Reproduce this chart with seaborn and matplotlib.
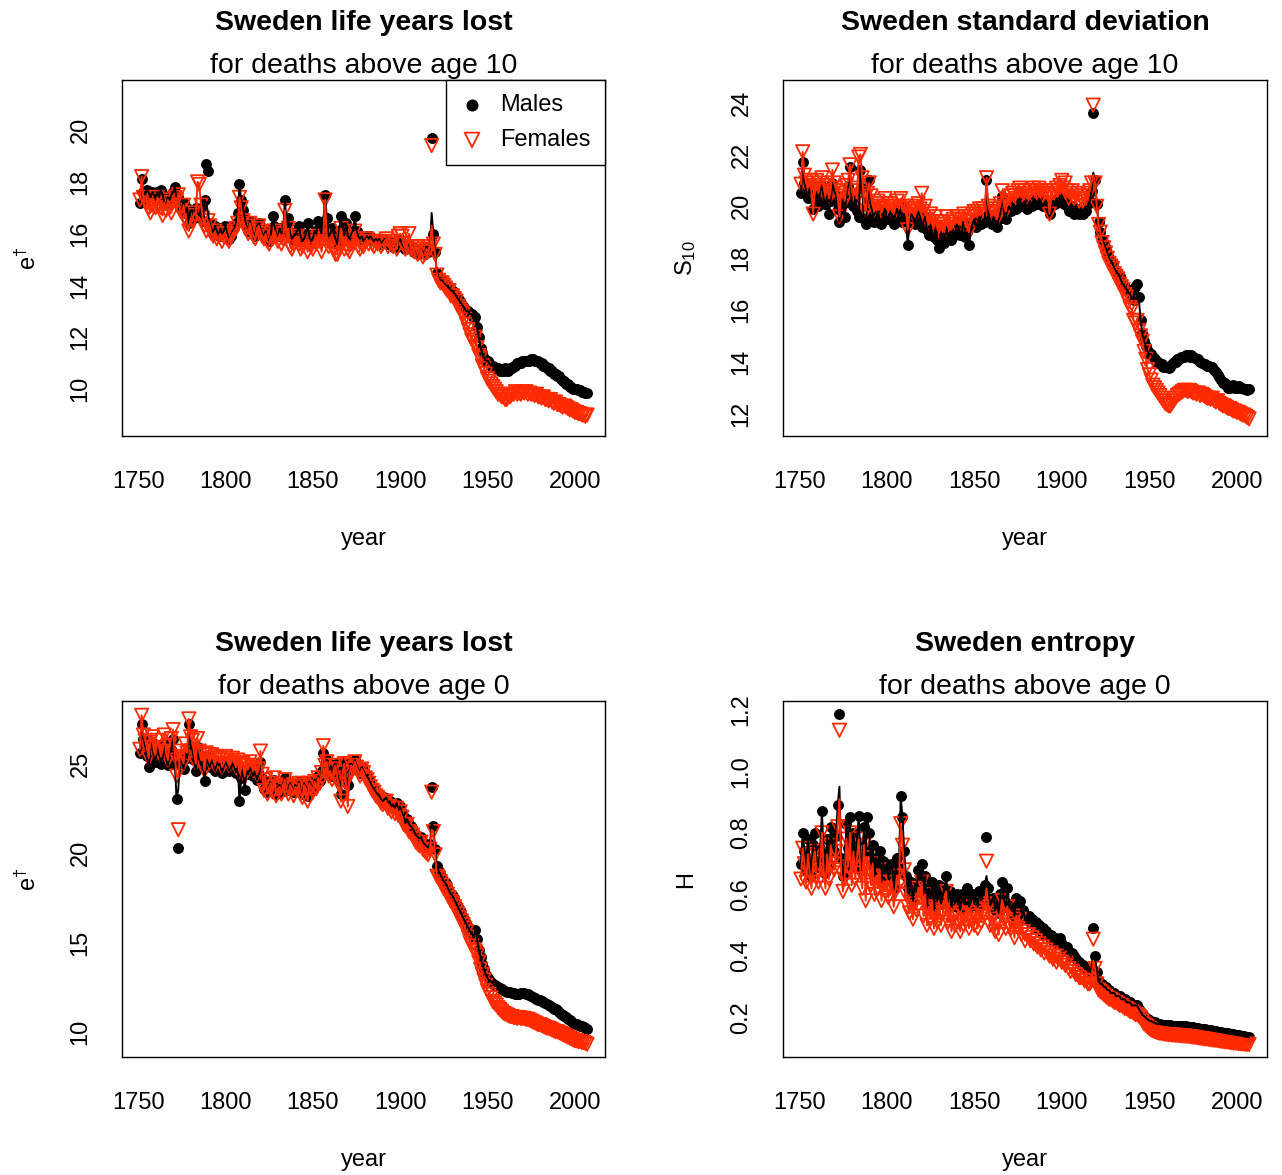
import numpy as np
import pandas as pd
import matplotlib
matplotlib.use("Agg")
import matplotlib.pyplot as plt
import seaborn as sns

# years 1751..2007, one value per year
years = list(range(1751, 2008))

# ---- life years lost above age 10 (e-dagger) ----
e10_m = [
    17.2, 18.1, 17.6, 17.5, 17.7, 17.6, 17.4, 17.6, 17.5, 17.3,
    17.6, 17.4, 17.7, 17.5, 17.2, 17.1, 17.4, 17.3, 17.5, 17.6,
    17.8, 17.3, 17.4, 17.0, 16.9, 17.2, 16.8, 17.0, 16.4, 16.9,
    16.9, 16.6, 17.0, 16.8, 16.7, 17.0, 16.5, 17.3, 18.7, 18.4,
    16.4, 16.2, 16.0, 16.3, 16.1, 15.9, 16.2, 16.0, 16.1, 16.3,
    16.0, 15.8, 15.9, 16.1, 16.2, 16.4, 16.8, 17.9, 17.3, 16.9,
    16.6, 16.3, 16.1, 16.5, 16.2, 16.0, 15.9, 16.3, 16.4, 16.2,
    16.0, 15.9, 16.1, 15.8, 15.7, 16.0, 16.7, 16.3, 16.0, 15.9,
    16.2, 16.0, 16.1, 17.3, 16.4, 16.6, 16.0, 15.8, 15.9, 16.0,
    16.1, 16.3, 15.9, 15.7, 15.8, 16.0, 16.4, 15.9, 15.7, 15.8,
    16.1, 16.0, 16.5, 16.2, 16.0, 16.4, 17.5, 16.6, 15.9, 16.0,
    16.2, 16.0, 15.8, 15.6, 16.1, 16.7, 16.2, 16.0, 16.4, 15.9,
    15.8, 16.0, 16.1, 16.7, 16.1, 15.9, 15.8, 15.9, 15.7, 15.8,
    15.9, 15.8, 15.9, 15.8, 15.7, 15.8, 15.7, 15.8, 15.6, 15.7,
    15.8, 15.7, 15.6, 15.7, 15.6, 15.5, 15.6, 15.5, 15.7, 15.8,
    15.6, 15.5, 15.4, 15.5, 15.6, 15.4, 15.5, 15.3, 15.4, 15.2,
    15.3, 15.4, 15.3, 15.2, 15.5, 15.3, 15.4, 19.7, 16.0, 15.3,
    14.5, 14.3, 14.2, 14.2, 14.1, 14.0, 14.0, 13.9, 13.8, 13.8,
    13.7, 13.6, 13.5, 13.4, 13.3, 13.2, 13.1, 13.0, 13.0, 12.9,
    12.9, 12.7, 12.8, 12.4, 12.0, 11.6, 11.4, 11.2, 11.1, 11.1,
    11.0, 10.9, 10.9, 10.8, 10.8, 10.8, 10.7, 10.7, 10.7, 10.8,
    10.7, 10.7, 10.8, 10.8, 10.9, 10.9, 11.0, 11.0, 11.0, 11.1,
    11.1, 11.1, 11.1, 11.1, 11.15, 11.15, 11.1, 11.1, 11.1, 11.0,
    11.0, 10.9, 10.9, 10.8, 10.8, 10.7, 10.7, 10.6, 10.6, 10.5,
    10.5, 10.4, 10.3, 10.3, 10.2, 10.2, 10.1, 10.1, 10.0, 10.0,
    10.0, 9.95, 9.95, 9.9, 9.9, 9.85, 9.85,
]
e10_f = [
    17.3, 18.2, 17.4, 17.3, 17.2, 17.0, 16.8, 17.1, 17.3, 17.0,
    17.4, 17.1, 17.0, 16.7, 17.2, 16.9, 17.3, 17.0, 16.8, 17.2,
    17.4, 17.3, 17.5, 16.9, 16.8, 17.1, 16.6, 16.4, 16.1, 16.6,
    16.5, 16.8, 16.7, 18.0, 17.9, 17.1, 16.6, 16.3, 16.1, 16.5,
    16.3, 16.0, 15.9, 16.1, 15.8, 15.9, 16.0, 15.7, 15.9, 16.0,
    15.8, 15.7, 15.9, 16.0, 16.1, 16.2, 16.4, 17.4, 17.0, 16.5,
    16.3, 16.2, 16.0, 16.4, 16.1, 15.9, 15.8, 16.2, 16.3, 16.1,
    15.9, 15.8, 16.0, 15.7, 15.6, 15.9, 15.8, 16.1, 15.9, 15.7,
    16.0, 15.6, 15.8, 16.9, 15.9, 16.2, 15.5, 15.4, 15.6, 15.8,
    15.9, 15.6, 15.4, 15.5, 15.6, 15.7, 15.3, 15.6, 15.5, 15.4,
    15.8, 15.6, 15.9, 15.7, 15.3, 15.9, 17.3, 15.8, 15.5, 15.6,
    15.7, 15.4, 15.2, 15.2, 15.6, 16.2, 15.9, 15.4, 15.8, 15.4,
    15.3, 15.6, 15.7, 16.1, 15.8, 15.5, 15.4, 15.6, 15.5, 15.7,
    15.8, 15.6, 15.7, 15.6, 15.5, 15.7, 15.6, 15.7, 15.5, 15.6,
    15.7, 15.8, 15.5, 15.7, 15.6, 15.5, 15.6, 15.4, 15.9, 16.0,
    15.9, 15.6, 15.4, 15.5, 16.0, 15.4, 15.5, 15.3, 15.5, 15.2,
    15.3, 15.4, 15.1, 15.2, 15.4, 15.3, 15.5, 19.4, 15.6, 15.2,
    14.4, 14.2, 14.1, 14.1, 14.0, 13.9, 13.8, 13.8, 13.6, 13.6,
    13.5, 13.4, 13.2, 13.1, 13.0, 12.9, 12.7, 12.5, 12.3, 12.1,
    11.9, 11.8, 12.0, 11.6, 11.3, 11.2, 10.9, 10.8, 10.6, 10.4,
    10.3, 10.2, 10.1, 10.0, 9.9, 9.8, 9.8, 9.7, 9.7, 9.6,
    9.6, 9.7, 9.7, 9.8, 9.8, 9.9, 9.8, 9.85, 9.8, 9.9,
    9.85, 9.9, 9.8, 9.85, 9.8, 9.8, 9.75, 9.8, 9.7, 9.7,
    9.65, 9.7, 9.6, 9.6, 9.55, 9.6, 9.5, 9.45, 9.5, 9.4,
    9.4, 9.35, 9.3, 9.35, 9.3, 9.25, 9.2, 9.2, 9.15, 9.1,
    9.1, 9.05, 9.05, 9.0, 9.0, 8.95, 9.0,
]

# ---- standard deviation above age 10 ----
s10_m = [
    20.5, 21.7, 20.9, 20.6, 20.3, 20.7, 20.4, 19.9, 20.2, 20.5,
    20.0, 20.6, 20.8, 20.3, 20.1, 20.4, 19.7, 20.2, 20.9, 20.6,
    20.4, 19.9, 19.4, 20.3, 20.1, 19.6, 20.5, 20.8, 21.5, 20.2,
    20.0, 20.3, 19.8, 19.6, 21.4, 20.7, 19.5, 19.3, 20.2, 21.0,
    20.0, 19.7, 19.4, 19.6, 19.8, 19.5, 19.3, 19.7, 19.9, 19.6,
    19.5, 19.8, 19.6, 19.3, 19.7, 19.9, 19.6, 20.0, 19.4, 19.7,
    19.5, 18.5, 19.4, 19.7, 19.6, 19.3, 19.5, 19.8, 19.6, 19.2,
    19.4, 19.6, 19.1, 18.9, 19.3, 19.0, 18.8, 19.2, 18.7, 18.4,
    19.0, 18.9, 18.6, 19.2, 18.8, 19.0, 18.7, 19.1, 18.9, 19.3,
    19.2, 18.9, 19.1, 19.4, 18.8, 19.0, 18.5, 19.2, 19.3, 19.5,
    19.2, 19.4, 19.6, 19.3, 19.5, 19.4, 21.0, 19.7, 19.5, 19.3,
    19.6, 19.4, 19.2, 19.5, 19.8, 20.4, 19.7, 19.5, 19.9, 20.0,
    19.8, 20.1, 20.0, 19.9, 20.2, 20.3, 20.0, 20.1, 20.2, 19.9,
    20.1, 20.2, 20.0, 20.3, 20.2, 20.1, 20.3, 20.2, 20.0, 20.1,
    20.2, 20.1, 19.7, 20.0, 20.2, 20.1, 20.3, 20.2, 20.4, 20.3,
    20.1, 20.2, 20.0, 19.8, 19.9, 20.0, 19.7, 19.8, 19.9, 19.7,
    19.8, 19.7, 19.9, 19.8, 20.1, 20.2, 20.6, 23.6, 21.0, 20.1,
    19.4, 19.0, 18.7, 18.6, 18.4, 18.2, 18.0, 17.9, 17.8, 17.6,
    17.5, 17.4, 17.3, 17.1, 17.0, 16.9, 16.8, 16.7, 16.6, 16.5,
    16.4, 16.9, 17.0, 16.5, 15.6, 15.1, 14.8, 14.6, 14.4, 14.3,
    14.3, 14.2, 14.1, 14.0, 14.0, 13.9, 13.9, 13.8, 13.8, 13.8,
    13.75, 13.8, 13.9, 14.0, 14.0, 14.1, 14.1, 14.2, 14.2, 14.2,
    14.25, 14.25, 14.2, 14.25, 14.2, 14.15, 14.1, 14.1, 14.0, 13.95,
    13.9, 13.9, 13.85, 13.85, 13.8, 13.8, 13.7, 13.6, 13.5, 13.4,
    13.3, 13.2, 13.2, 13.1, 13.0, 13.0, 13.05, 13.1, 13.0, 13.0,
    13.05, 13.0, 13.0, 12.95, 12.95, 12.9, 12.95,
]
s10_f = [
    20.85, 22.1, 21.2, 20.9, 20.7, 21.0, 20.6, 19.7, 20.8, 21.0,
    20.5, 20.9, 21.1, 20.7, 20.4, 20.8, 20.3, 20.6, 21.4, 20.9,
    20.7, 20.4, 19.6, 20.5, 20.6, 20.2, 20.8, 21.0, 21.6, 20.6,
    20.4, 20.7, 20.3, 21.9, 22.0, 21.1, 20.1, 19.8, 20.5, 20.9,
    20.4, 20.0, 19.8, 20.1, 20.2, 19.9, 19.8, 20.0, 20.3, 19.9,
    19.8, 20.1, 20.0, 19.7, 20.0, 20.2, 19.9, 20.3, 19.8, 20.0,
    19.9, 19.1, 19.7, 20.0, 19.9, 19.6, 19.8, 20.1, 19.9, 20.5,
    19.8, 20.0, 19.5, 19.3, 19.7, 19.4, 19.2, 19.6, 19.1, 19.0,
    19.4, 19.3, 19.0, 19.6, 19.2, 19.4, 19.1, 19.5, 19.3, 19.6,
    19.5, 19.3, 19.5, 19.7, 19.2, 19.4, 19.0, 19.6, 19.7, 19.8,
    19.6, 19.8, 19.9, 19.7, 19.9, 19.8, 21.1, 20.0, 19.8, 19.7,
    19.9, 19.7, 19.5, 19.8, 20.1, 20.6, 20.0, 19.8, 20.2, 20.4,
    20.2, 20.5, 20.4, 20.3, 20.6, 20.7, 20.4, 20.5, 20.6, 20.3,
    20.5, 20.6, 20.4, 20.7, 20.6, 20.5, 20.7, 20.6, 20.4, 20.5,
    20.6, 20.5, 19.7, 20.4, 20.6, 20.5, 20.7, 20.6, 20.8, 21.0,
    20.7, 20.9, 20.6, 20.3, 20.5, 20.6, 20.3, 20.4, 20.5, 20.2,
    20.3, 20.2, 20.4, 20.3, 20.5, 20.6, 20.9, 23.9, 20.9, 20.0,
    19.3, 19.0, 18.6, 18.4, 18.2, 18.0, 17.8, 17.7, 17.6, 17.4,
    17.3, 17.2, 17.0, 16.9, 16.8, 16.6, 16.5, 16.3, 16.1, 16.0,
    15.6, 15.5, 15.6, 15.2, 15.0, 14.8, 14.4, 14.1, 13.7, 13.5,
    13.3, 13.1, 13.0, 12.9, 12.8, 12.7, 12.6, 12.5, 12.4, 12.35,
    12.3, 12.3, 12.4, 12.5, 12.6, 12.7, 12.75, 12.8, 12.85, 12.9,
    12.9, 12.85, 12.9, 12.85, 12.8, 12.8, 12.75, 12.8, 12.7, 12.75,
    12.7, 12.65, 12.6, 12.6, 12.55, 12.6, 12.5, 12.45, 12.5, 12.4,
    12.35, 12.3, 12.3, 12.25, 12.2, 12.2, 12.15, 12.1, 12.1, 12.05,
    12.05, 12.0, 11.95, 11.95, 11.9, 11.85, 11.8,
]

# ---- life years lost above age 0 ----
e0_m = [
    25.6, 27.2, 26.4, 26.0, 25.4, 24.8, 25.9, 26.2, 25.3, 25.1,
    26.0, 25.5, 25.0, 25.3, 26.1, 25.2, 24.9, 25.6, 25.8, 26.4,
    25.0, 23.0, 20.3, 25.4, 25.1, 24.7, 25.6, 25.3, 27.2, 26.0,
    25.8, 25.2, 24.6, 25.9, 25.3, 24.9, 25.1, 24.0, 25.4, 25.0,
    24.8, 25.2, 25.0, 24.6, 25.1, 24.9, 25.0, 24.5, 24.8, 25.1,
    24.9, 24.6, 24.7, 25.0, 24.8, 24.5, 24.9, 22.9, 24.2, 24.7,
    23.5, 24.6, 24.4, 24.8, 24.5, 24.3, 24.6, 24.1, 24.4, 25.1,
    24.2, 23.6, 24.0, 23.4, 23.8, 23.9, 23.5, 24.1, 23.3, 23.7,
    23.8, 23.4, 23.9, 24.2, 23.6, 23.5, 23.9, 23.7, 23.4, 23.8,
    23.6, 24.0, 23.5, 23.3, 23.9, 23.7, 23.2, 24.0, 23.8, 23.5,
    24.1, 23.8, 24.3, 24.0, 24.6, 25.6, 25.0, 25.2, 24.5, 24.8,
    24.3, 24.9, 25.0, 24.4, 24.0, 23.3, 24.7, 25.1, 24.2, 23.8,
    24.6, 25.0, 24.8, 25.2, 24.9, 24.7, 24.5, 24.8, 24.6, 24.4,
    24.3, 24.1, 23.9, 23.7, 23.6, 23.4, 23.3, 23.2, 23.0, 22.9,
    23.0, 23.1, 22.8, 22.9, 22.6, 22.7, 22.5, 22.8, 22.4, 22.6,
    22.3, 22.0, 21.8, 21.9, 21.6, 21.5, 21.4, 21.2, 21.0, 20.9,
    20.8, 20.9, 20.6, 20.5, 20.4, 20.3, 20.5, 23.7, 21.5, 20.2,
    19.3, 19.0, 18.8, 18.6, 18.4, 18.3, 18.1, 17.9, 17.7, 17.6,
    17.4, 17.2, 17.0, 16.8, 16.6, 16.4, 16.2, 16.0, 15.8, 15.6,
    15.5, 15.3, 15.7, 15.2, 14.6, 14.2, 13.8, 13.5, 13.2, 13.0,
    12.9, 12.8, 12.7, 12.6, 12.55, 12.5, 12.45, 12.4, 12.35, 12.3,
    12.25, 12.2, 12.2, 12.15, 12.15, 12.1, 12.1, 12.1, 12.15, 12.15,
    12.15, 12.1, 12.1, 12.05, 12.0, 11.95, 11.9, 11.85, 11.8, 11.75,
    11.7, 11.65, 11.6, 11.55, 11.5, 11.45, 11.4, 11.3, 11.25, 11.2,
    11.1, 11.0, 10.95, 10.9, 10.8, 10.7, 10.65, 10.6, 10.5, 10.45,
    10.45, 10.4, 10.35, 10.3, 10.25, 10.2, 10.15,
]
e0_f = [
    25.8, 27.7, 26.6, 26.3, 25.9, 25.3, 26.2, 26.5, 25.7, 25.5,
    26.3, 25.9, 25.4, 25.7, 26.6, 25.6, 25.2, 26.0, 26.4, 26.9,
    25.4, 24.3, 21.3, 25.7, 25.3, 25.0, 26.1, 25.6, 27.5, 26.5,
    26.3, 25.6, 25.0, 26.4, 25.7, 25.2, 25.5, 24.6, 25.6, 25.3,
    25.1, 25.5, 25.3, 24.9, 25.4, 25.2, 25.3, 24.8, 25.0, 25.4,
    25.2, 24.9, 25.0, 25.3, 25.1, 24.8, 25.2, 24.5, 24.9, 25.0,
    24.3, 24.9, 24.7, 25.1, 24.8, 24.6, 24.9, 24.4, 24.7, 25.7,
    24.4, 23.5, 24.1, 23.3, 23.7, 23.9, 23.4, 24.2, 23.2, 23.6,
    23.7, 23.3, 23.8, 24.1, 23.5, 23.3, 23.8, 23.6, 23.2, 23.7,
    23.5, 23.9, 23.3, 23.1, 23.8, 23.6, 22.9, 23.9, 23.7, 23.4,
    24.0, 23.6, 24.2, 23.9, 24.5, 26.0, 24.9, 25.1, 24.3, 24.6,
    24.1, 24.7, 24.9, 24.2, 23.8, 22.9, 24.5, 25.0, 23.9, 22.6,
    24.5, 24.9, 24.7, 25.1, 24.8, 24.6, 24.3, 24.7, 24.5, 24.2,
    24.1, 23.9, 23.7, 23.5, 23.4, 23.2, 23.1, 23.0, 22.8, 22.7,
    22.8, 22.9, 22.5, 22.6, 22.3, 22.5, 22.2, 22.5, 22.1, 22.3,
    22.0, 21.6, 21.5, 21.6, 21.2, 21.1, 21.0, 20.8, 20.6, 20.5,
    20.4, 20.6, 20.2, 20.1, 20.0, 19.9, 20.2, 23.4, 21.2, 19.9,
    18.7, 18.6, 18.4, 18.2, 18.0, 17.9, 17.7, 17.5, 17.3, 17.2,
    17.0, 16.8, 16.6, 16.4, 16.2, 16.0, 15.8, 15.6, 15.3, 15.0,
    14.8, 14.6, 14.5, 14.3, 13.9, 13.5, 13.2, 12.9, 12.6, 12.3,
    12.1, 11.9, 11.7, 11.6, 11.5, 11.35, 11.25, 11.15, 11.05, 11.0,
    10.95, 10.9, 10.85, 10.85, 10.8, 10.8, 10.75, 10.8, 10.75, 10.75,
    10.75, 10.7, 10.7, 10.65, 10.6, 10.55, 10.5, 10.45, 10.4, 10.4,
    10.35, 10.3, 10.25, 10.2, 10.2, 10.15, 10.1, 10.05, 10.0, 10.0,
    9.95, 9.9, 9.85, 9.8, 9.75, 9.7, 9.65, 9.6, 9.55, 9.5,
    9.5, 9.45, 9.45, 9.4, 9.4, 9.35, 9.3,
]

# ---- entropy H above age 0 ----
h_m = [
    0.70, 0.80, 0.74, 0.68, 0.78, 0.72, 0.66, 0.76, 0.80, 0.71,
    0.69, 0.75, 0.87, 0.73, 0.67, 0.78, 0.70, 0.82, 0.76, 0.74,
    0.79, 0.89, 1.187, 0.72, 0.66, 0.70, 0.83, 0.75, 0.85, 0.69,
    0.80, 0.71, 0.77, 0.855, 0.73, 0.68, 0.82, 0.74, 0.85, 0.80,
    0.70, 0.76, 0.66, 0.72, 0.69, 0.74, 0.64, 0.71, 0.67, 0.70,
    0.65, 0.68, 0.70, 0.62, 0.67, 0.72, 0.69, 0.92, 0.85, 0.74,
    0.66, 0.62, 0.60, 0.64, 0.58, 0.63, 0.61, 0.68, 0.65, 0.70,
    0.60, 0.66, 0.57, 0.62, 0.59, 0.64, 0.56, 0.61, 0.58, 0.63,
    0.57, 0.60, 0.62, 0.66, 0.58, 0.61, 0.56, 0.59, 0.57, 0.60,
    0.58, 0.55, 0.60, 0.57, 0.59, 0.62, 0.56, 0.58, 0.60, 0.57,
    0.59, 0.56, 0.61, 0.58, 0.60, 0.63, 0.785, 0.62, 0.57, 0.58,
    0.59, 0.55, 0.57, 0.54, 0.60, 0.64, 0.58, 0.56, 0.62, 0.57,
    0.55, 0.57, 0.53, 0.59, 0.56, 0.58, 0.54, 0.55, 0.52, 0.53,
    0.53, 0.51, 0.52, 0.50, 0.51, 0.49, 0.50, 0.48, 0.49, 0.47,
    0.48, 0.47, 0.46, 0.47, 0.45, 0.46, 0.44, 0.45, 0.46, 0.44,
    0.43, 0.42, 0.43, 0.41, 0.40, 0.41, 0.40, 0.39, 0.38, 0.38,
    0.37, 0.37, 0.36, 0.36, 0.35, 0.35, 0.36, 0.49, 0.40, 0.35,
    0.32, 0.31, 0.31, 0.30, 0.30, 0.29, 0.29, 0.28, 0.28, 0.28,
    0.27, 0.27, 0.27, 0.26, 0.26, 0.26, 0.25, 0.25, 0.25, 0.24,
    0.24, 0.24, 0.24, 0.23, 0.22, 0.21, 0.205, 0.20, 0.195, 0.19,
    0.19, 0.185, 0.185, 0.18, 0.18, 0.18, 0.178, 0.178, 0.176, 0.176,
    0.175, 0.175, 0.174, 0.174, 0.174, 0.173, 0.173, 0.173, 0.172, 0.172,
    0.172, 0.171, 0.17, 0.17, 0.169, 0.168, 0.167, 0.166, 0.165, 0.164,
    0.163, 0.162, 0.161, 0.16, 0.159, 0.158, 0.157, 0.156, 0.155, 0.154,
    0.153, 0.152, 0.151, 0.15, 0.149, 0.148, 0.147, 0.146, 0.145, 0.144,
    0.143, 0.142, 0.141, 0.14, 0.139, 0.138, 0.137,
]
h_f = [
    0.65, 0.75, 0.70, 0.64, 0.73, 0.67, 0.62, 0.71, 0.74, 0.66,
    0.64, 0.70, 0.80, 0.68, 0.62, 0.73, 0.65, 0.76, 0.70, 0.68,
    0.74, 0.82, 1.133, 0.67, 0.61, 0.65, 0.78, 0.69, 0.80, 0.63,
    0.74, 0.65, 0.72, 0.78, 0.67, 0.62, 0.76, 0.58, 0.72, 0.68,
    0.63, 0.70, 0.60, 0.66, 0.62, 0.68, 0.58, 0.64, 0.61, 0.64,
    0.59, 0.62, 0.64, 0.56, 0.61, 0.66, 0.63, 0.83, 0.76, 0.68,
    0.60, 0.56, 0.54, 0.58, 0.52, 0.57, 0.55, 0.62, 0.59, 0.64,
    0.53, 0.60, 0.50, 0.56, 0.52, 0.58, 0.49, 0.55, 0.51, 0.57,
    0.50, 0.54, 0.56, 0.61, 0.51, 0.55, 0.48, 0.53, 0.50, 0.54,
    0.51, 0.48, 0.54, 0.50, 0.53, 0.56, 0.49, 0.52, 0.54, 0.50,
    0.53, 0.49, 0.55, 0.51, 0.54, 0.57, 0.708, 0.56, 0.50, 0.52,
    0.53, 0.48, 0.51, 0.47, 0.54, 0.58, 0.52, 0.49, 0.56, 0.50,
    0.49, 0.51, 0.46, 0.53, 0.49, 0.52, 0.47, 0.48, 0.45, 0.47,
    0.47, 0.45, 0.46, 0.44, 0.45, 0.43, 0.44, 0.42, 0.43, 0.41,
    0.42, 0.41, 0.40, 0.41, 0.39, 0.40, 0.38, 0.39, 0.40, 0.38,
    0.38, 0.37, 0.38, 0.36, 0.35, 0.36, 0.35, 0.34, 0.34, 0.33,
    0.33, 0.33, 0.32, 0.32, 0.31, 0.31, 0.32, 0.455, 0.36, 0.31,
    0.29, 0.285, 0.28, 0.275, 0.27, 0.265, 0.26, 0.26, 0.255, 0.25,
    0.25, 0.245, 0.24, 0.24, 0.235, 0.23, 0.23, 0.225, 0.22, 0.22,
    0.215, 0.21, 0.21, 0.205, 0.20, 0.19, 0.18, 0.175, 0.17, 0.165,
    0.16, 0.158, 0.155, 0.153, 0.151, 0.15, 0.149, 0.148, 0.147, 0.146,
    0.145, 0.145, 0.144, 0.144, 0.143, 0.143, 0.142, 0.142, 0.141, 0.141,
    0.14, 0.14, 0.139, 0.138, 0.137, 0.137, 0.136, 0.135, 0.134, 0.133,
    0.132, 0.131, 0.131, 0.13, 0.129, 0.128, 0.127, 0.127, 0.126, 0.125,
    0.124, 0.123, 0.122, 0.122, 0.121, 0.12, 0.119, 0.118, 0.118, 0.117,
    0.116, 0.116, 0.115, 0.115, 0.114, 0.114, 0.113,
]

# the connecting lines differ from the points in crisis years: year -> (males, females)
e10_line_fix = {1789: (17.2, None), 1790: (16.8, None), 1918: (16.8, 16.3)}
s10_line_fix = {1918: (21.3, 21.2)}
e0_line_fix = {1773: (23.6, 24.2), 1918: (21.6, 21.3)}
h_line_fix = {1773: (0.95, 0.91), 1857: (0.66, 0.62), 1918: (0.41, 0.385)}

RED = "#FF2A00"

sns.set_style("white")
plt.rcParams["font.family"] = ["Liberation Sans", "DejaVu Sans"]
plt.rcParams["text.color"] = "black"
plt.rcParams["axes.labelcolor"] = "black"
plt.rcParams["mathtext.fontset"] = "custom"
plt.rcParams["mathtext.rm"] = "Liberation Sans"
plt.rcParams["mathtext.it"] = "Liberation Sans"

W, H = 1282, 1175
fig = plt.figure(figsize=(W / 100, H / 100), dpi=100)


def px_axes(x0, y0, x1, y1):
    return fig.add_axes([x0 / W, 1 - y1 / H, (x1 - x0) / W, (y1 - y0) / H])


def make_lines(vals, fix, idx):
    out = list(vals)
    for yr, pair in fix.items():
        if pair[idx] is not None:
            out[years.index(yr)] = pair[idx]
    return out


panels = [
    dict(box=(122, 80, 605, 436), m=e10_m, f=e10_f, fix=e10_line_fix,
         ylim=(8.19, 21.93), yticks=[10, 12, 14, 16, 18, 20],
         title="Sweden life years lost", sub="for deaths above age 10",
         ylab=r"$\mathregular{e^{\dagger}}$", legend=True),
    dict(box=(783, 80, 1267, 436), m=s10_m, f=s10_f, fix=s10_line_fix,
         ylim=(11.14, 24.87), yticks=[12, 14, 16, 18, 20, 22, 24],
         title="Sweden standard deviation", sub="for deaths above age 10",
         ylab=r"$\mathregular{S_{10}}$", legend=False),
    dict(box=(122, 701, 605, 1057), m=e0_m, f=e0_f, fix=e0_line_fix,
         ylim=(8.59, 28.5), yticks=[10, 15, 20, 25],
         title="Sweden life years lost", sub="for deaths above age 0",
         ylab=r"$\mathregular{e^{\dagger}}$", legend=False),
    dict(box=(783, 701, 1267, 1057), m=h_m, f=h_f, fix=h_line_fix,
         ylim=(0.0726, 1.228), yticks=[0.2, 0.4, 0.6, 0.8, 1.0, 1.2],
         title="Sweden entropy", sub="for deaths above age 0",
         ylab="H", legend=False),
]

for p in panels:
    x0, y0, x1, y1 = p["box"]
    ax = px_axes(x0, y0, x1, y1)
    df = pd.DataFrame({"year": years, "males": p["m"], "females": p["f"],
                       "line_m": make_lines(p["m"], p["fix"], 0),
                       "line_f": make_lines(p["f"], p["fix"], 1)})

    sns.scatterplot(data=df, x="year", y="males", ax=ax, marker="o", s=62,
                    color="black", edgecolor="black", linewidth=0,
                    label="Males", zorder=3)
    sns.scatterplot(data=df, x="year", y="females", ax=ax, marker="v", s=92,
                    facecolor="none", edgecolor=RED, linewidth=1.3,
                    label="Females", zorder=4)
    sns.lineplot(data=df, x="year", y="line_m", ax=ax, color="black",
                 linewidth=1.4, zorder=5, legend=False)
    sns.lineplot(data=df, x="year", y="line_f", ax=ax, color=RED,
                 linewidth=1.4, zorder=5, legend=False)

    ax.set_xlim(1740.76, 2017.24)
    ax.set_ylim(*p["ylim"])
    ax.set_xticks([1750, 1800, 1850, 1900, 1950, 2000])
    ax.set_yticks(p["yticks"])
    ax.set_yticklabels([f"{t:g}" if t >= 10 else f"{t:.1f}" for t in p["yticks"]])
    ax.set_xlabel("")
    ax.set_ylabel("")
    for s in ax.spines.values():
        s.set_visible(True)
        s.set_color("black")
        s.set_linewidth(1.0)
    ax.tick_params(axis="both", direction="out", length=5, width=1.0,
                   color="black", labelsize=17, labelcolor="black")
    ax.tick_params(axis="x", pad=20)
    ax.tick_params(axis="y", pad=17)
    for lab in ax.get_yticklabels():
        lab.set_rotation(90)
        lab.set_va("center")
        lab.set_ha("right")
    ax.grid(False)

    if p["legend"]:
        leg = ax.legend(loc="upper right", borderaxespad=0, fontsize=17,
                        frameon=True, fancybox=False, edgecolor="black",
                        framealpha=1, handlelength=1.0, handletextpad=0.7,
                        borderpad=0.6, labelspacing=0.55, markerscale=1.1)
        leg.get_frame().set_linewidth(1.0)
    elif ax.get_legend() is not None:
        ax.get_legend().remove()

    cx = (x0 + x1) / 2 / W
    fig.text(cx, 1 - (y0 - 57) / H, p["title"], ha="center", va="center",
             fontsize=20.5, fontweight="bold")
    fig.text(cx, 1 - (y0 - 14) / H, p["sub"], ha="center", va="center",
             fontsize=20.5)
    fig.text(cx, 1 - (y1 + 103) / H, "year", ha="center", va="center",
             fontsize=17)
    ylx = 28 if x0 < 400 else 686
    fig.text(ylx / W, 1 - (y0 + y1) / 2 / H, p["ylab"], ha="center",
             va="center", rotation=90, fontsize=17)

fig.savefig("out.png", dpi=100)
